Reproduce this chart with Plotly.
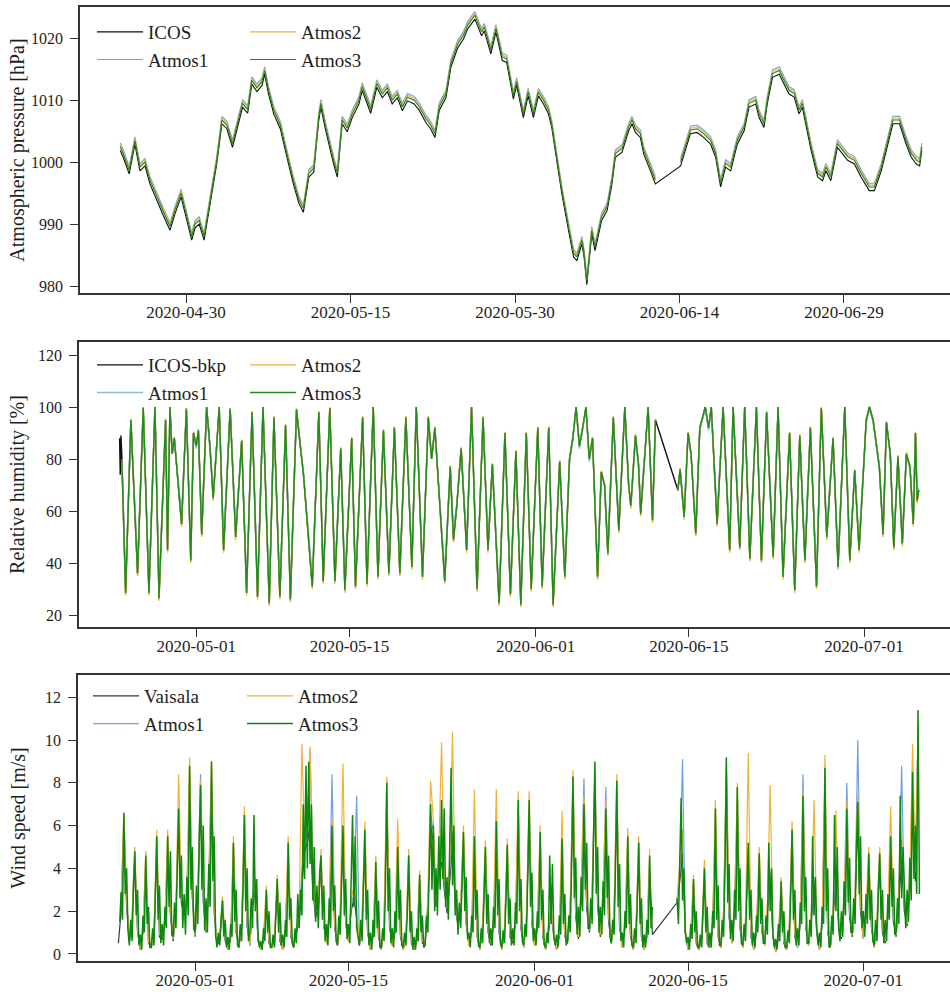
import datetime as dt
import plotly.graph_objects as go

START = dt.datetime(2020, 4, 24)

# ---------------- Atmospheric pressure [hPa] (time in days since START) -------------
p_days = [0.0, 0.27, 0.82, 1.34, 1.8, 2.26, 2.71, 3.32, 3.93, 4.54,
          5.0, 5.55, 6.07, 6.52, 6.83, 7.2, 7.65, 8.2, 8.8, 9.27,
          9.73, 10.24, 10.7, 11.16, 11.62, 12.0, 12.47, 12.93, 13.17, 13.54,
          14.0, 14.6, 15.2, 15.8, 16.3, 16.7, 17.2, 17.65, 18.1, 18.3,
          18.7, 19.2, 19.5, 19.8, 20.24, 20.7, 21.16, 21.77, 22.07, 22.53,
          22.84, 23.4, 23.9, 24.36, 24.8, 25.27, 25.73, 26.2, 26.8, 27.26,
          27.87, 28.3, 28.7, 29.1, 29.7, 30.15, 30.76, 31.3, 31.68, 32.0,
          32.35, 32.95, 33.2, 33.8, 34.26, 34.84, 35.24, 35.85, 36.15, 36.76,
          37.2, 37.68, 38.13, 38.6, 39.05, 39.35, 39.87, 40.27, 40.88, 41.34,
          41.64, 42.1, 42.3, 42.55, 43.0, 43.3, 43.9, 44.4, 44.84, 45.15,
          45.76, 46.37, 46.67, 46.98, 47.43, 47.74, 48.35, 48.8, 50.0, 51.1,
          51.55, 52.0, 52.6, 53.2, 53.84, 54.3, 54.75, 55.2, 55.67, 56.27,
          56.9, 57.34, 57.95, 58.26, 58.7, 59.0, 59.48, 60.1, 60.54, 61.0,
          61.46, 61.9, 62.2, 62.5, 63.0, 63.6, 64.05, 64.35, 64.8, 65.4,
          65.87, 66.33, 66.95, 67.55, 68.3, 68.77, 69.4, 69.85, 70.46, 71.06,
          71.67, 72.13, 72.6, 72.9, 73.1]

p_icos = [1001.9, 1000.8, 998.1, 1002.9, 998.6, 999.4, 996.5, 993.8, 991.4, 989.0,
          991.7, 994.4, 990.6, 987.4, 989.4, 990.0, 987.4, 993.3, 999.7, 1006.2,
          1005.4, 1002.4, 1005.9, 1008.9, 1007.9, 1012.6, 1011.4, 1012.4, 1014.2, 1010.9,
          1007.8, 1005.4, 1000.8, 996.4, 993.3, 991.9, 997.6, 998.4, 1006.7, 1008.9,
          1005.4, 1001.3, 999.4, 997.6, 1006.2, 1004.9, 1007.2, 1009.4, 1011.6, 1009.4,
          1007.9, 1012.1, 1010.4, 1011.4, 1009.4, 1010.4, 1008.3, 1009.9, 1009.4, 1008.4,
          1006.4, 1005.4, 1004.0, 1008.4, 1010.4, 1015.3, 1018.4, 1019.9, 1021.5, 1022.3,
          1023.1, 1020.4, 1021.2, 1017.5, 1021.0, 1016.4, 1016.1, 1010.2, 1012.4, 1007.2,
          1010.7, 1007.2, 1010.7, 1009.4, 1007.8, 1005.6, 999.7, 994.9, 989.0, 984.7,
          984.1, 986.8, 984.7, 980.2, 988.4, 985.7, 990.6, 992.2, 996.5, 1000.8,
          1001.6, 1005.1, 1006.2, 1004.8, 1004.0, 1001.3, 998.6, 996.5, None, 999.4,
          1001.9, 1004.6, 1004.8, 1004.0, 1002.9, 1000.8, 996.0, 999.2, 998.6, 1002.9,
          1005.1, 1008.9, 1009.4, 1007.2, 1005.6, 1009.4, 1013.7, 1014.2, 1012.6, 1011.0,
          1010.5, 1007.8, 1008.9, 1006.2, 1001.9, 997.6, 997.0, 998.6, 997.0, 1002.4,
          1001.3, 1000.3, 999.7, 997.6, 995.4, 995.4, 998.6, 1001.9, 1006.2, 1006.2,
          1002.9, 1000.8, 999.7, 999.4, 1001.9]

p_atmos1 = [1003.1, 1002.0, 999.3, 1004.1, 999.8, 1000.6, 997.7, 995.0, 992.6, 990.2,
            992.9, 995.6, 991.8, 988.6, 990.6, 991.2, 988.6, 994.5, 1000.9, 1007.4,
            1006.6, 1003.6, 1007.1, 1010.1, 1009.1, 1013.8, 1012.6, 1013.6, 1015.4, 1012.1,
            1009.0, 1006.6, 1002.0, 997.6, 994.5, 993.1, 998.8, 999.6, 1007.9, 1010.1,
            1006.6, 1002.5, 1000.6, 998.8, 1007.4, 1006.1, 1008.4, 1010.6, 1012.8, 1010.6,
            1009.1, 1013.3, 1011.6, 1012.6, 1010.6, 1011.6, 1009.5, 1011.1, 1010.6, 1009.6,
            1007.6, 1006.6, 1005.2, 1009.6, 1011.6, 1016.5, 1019.6, 1021.1, 1022.7, 1023.5,
            1024.3, 1021.6, 1022.4, 1018.7, 1022.2, 1017.6, 1017.3, 1011.4, 1013.6, 1008.4,
            1011.9, 1008.4, 1011.9, 1010.6, 1009.0, 1006.8, 1000.9, 996.1, 990.2, 985.9,
            985.3, 988.0, 985.9, 981.4, 989.6, 986.9, 991.8, 993.4, 997.7, 1002.0,
            1002.8, 1006.3, 1007.4, 1006.0, 1005.2, 1002.5, 999.8, 997.7, None, 1000.6,
            1003.1, 1005.8, 1006.0, 1005.2, 1004.1, 1002.0, 997.2, 1000.4, 999.8, 1004.1,
            1006.3, 1010.1, 1010.6, 1008.4, 1006.8, 1010.6, 1014.9, 1015.4, 1013.8, 1012.2,
            1011.7, 1009.0, 1010.1, 1007.4, 1003.1, 998.8, 998.2, 999.8, 998.2, 1003.6,
            1002.5, 1001.5, 1000.9, 998.8, 996.6, 996.6, 999.8, 1003.1, 1007.4, 1007.4,
            1004.1, 1002.0, 1000.9, 1000.6, 1003.1]

p_atmos2 = [1002.8, 1001.7, 999.0, 1003.8, 999.5, 1000.3, 997.4, 994.7, 992.3, 989.9,
            992.6, 995.3, 991.5, 988.3, 990.3, 990.9, 988.3, 994.2, 1000.6, 1007.1,
            1006.3, 1003.3, 1006.8, 1009.8, 1008.8, 1013.5, 1012.3, 1013.3, 1015.1, 1011.8,
            1008.7, 1006.3, 1001.7, 997.3, 994.2, 992.8, 998.5, 999.3, 1007.6, 1009.8,
            1006.3, 1002.2, 1000.3, 998.5, 1007.1, 1005.8, 1008.1, 1010.3, 1012.5, 1010.3,
            1008.8, 1013.0, 1011.3, 1012.3, 1010.3, 1011.3, 1009.2, 1010.8, 1010.3, 1009.3,
            1007.3, 1006.3, 1004.9, 1009.3, 1011.3, 1016.2, 1019.3, 1020.8, 1022.4, 1023.2,
            1024.0, 1021.3, 1022.1, 1018.4, 1021.9, 1017.3, 1017.0, 1011.1, 1013.3, 1008.1,
            1011.6, 1008.1, 1011.6, 1010.3, 1008.7, 1006.5, 1000.6, 995.8, 989.9, 985.6,
            985.0, 987.7, 985.6, 981.1, 989.3, 986.6, 991.5, 993.1, 997.4, 1001.7,
            1002.5, 1006.0, 1007.1, 1005.7, 1004.9, 1002.2, 999.5, 997.4, None, 1000.3,
            1002.8, 1005.5, 1005.7, 1004.9, 1003.8, 1001.7, 996.9, 1000.1, 999.5, 1003.8,
            1006.0, 1009.8, 1010.3, 1008.1, 1006.5, 1010.3, 1014.6, 1015.1, 1013.5, 1011.9,
            1011.4, 1008.7, 1009.8, 1007.1, 1002.8, 998.5, 997.9, 999.5, 997.9, 1003.3,
            1002.2, 1001.2, 1000.6, 998.5, 996.3, 996.3, 999.5, 1002.8, 1007.1, 1007.1,
            1003.8, 1001.7, 1000.6, 1000.3, 1002.8]

p_atmos3 = [1002.5, 1001.4, 998.7, 1003.5, 999.2, 1000.0, 997.1, 994.4, 992.0, 989.6,
            992.3, 995.0, 991.2, 988.0, 990.0, 990.6, 988.0, 993.9, 1000.3, 1006.8,
            1006.0, 1003.0, 1006.5, 1009.5, 1008.5, 1013.2, 1012.0, 1013.0, 1014.8, 1011.5,
            1008.4, 1006.0, 1001.4, 997.0, 993.9, 992.5, 998.2, 999.0, 1007.3, 1009.5,
            1006.0, 1001.9, 1000.0, 998.2, 1006.8, 1005.5, 1007.8, 1010.0, 1012.2, 1010.0,
            1008.5, 1012.7, 1011.0, 1012.0, 1010.0, 1011.0, 1008.9, 1010.5, 1010.0, 1009.0,
            1007.0, 1006.0, 1004.6, 1009.0, 1011.0, 1015.9, 1019.0, 1020.5, 1022.1, 1022.9,
            1023.7, 1021.0, 1021.8, 1018.1, 1021.6, 1017.0, 1016.7, 1010.8, 1013.0, 1007.8,
            1011.3, 1007.8, 1011.3, 1010.0, 1008.4, 1006.2, 1000.3, 995.5, 989.6, 985.3,
            984.7, 987.4, 985.3, 980.8, 989.0, 986.3, 991.2, 992.8, 997.1, 1001.4,
            1002.2, 1005.7, 1006.8, 1005.4, 1004.6, 1001.9, 999.2, 997.1, None, 1000.0,
            1002.5, 1005.2, 1005.4, 1004.6, 1003.5, 1001.4, 996.6, 999.8, 999.2, 1003.5,
            1005.7, 1009.5, 1010.0, 1007.8, 1006.2, 1010.0, 1014.3, 1014.8, 1013.2, 1011.6,
            1011.1, 1008.4, 1009.5, 1006.8, 1002.5, 998.2, 997.6, 999.2, 997.6, 1003.0,
            1001.9, 1000.9, 1000.3, 998.2, 996.0, 996.0, 999.2, 1002.5, 1006.8, 1006.8,
            1003.5, 1001.4, 1000.3, 1000.0, 1002.5]

# ---------------- Relative humidity [%] (time in days since START) -------------
rh_days = [0.0, 0.06, 0.12, 0.2, 0.55, 1.03, 1.64, 2.16, 2.68, 3.23,
           3.6, 4.2, 4.38, 4.6, 4.8, 5.0, 5.66, 6.1, 6.5, 6.75,
           7.0, 7.2, 7.5, 7.95, 8.25, 8.55, 9.1, 9.5, 10.1, 10.6,
           11.15, 11.6, 12.1, 12.6, 13.1, 13.67, 14.1, 14.64, 15.16, 15.6,
           16.16, 16.5, 16.8, 17.6, 18.2, 18.6, 19.2, 19.67, 20.2, 20.58,
           21.2, 21.55, 22.2, 22.6, 23.17, 23.6, 24.1, 24.6, 25.1, 25.6,
           26.15, 26.7, 27.1, 27.67, 28.2, 28.5, 28.8, 29.7, 30.2, 30.5,
           30.8, 31.2, 31.7, 32.15, 32.65, 33.2, 33.65, 34.05, 34.67, 35.2,
           35.7, 36.2, 36.65, 37.15, 37.6, 38.2, 38.6, 39.2, 39.6, 40.2,
           40.67, 41.1, 41.4, 41.7, 42.0, 42.3, 42.6, 42.9, 43.2, 43.66,
           44.0, 44.3, 44.6, 45.1, 45.6, 46.15, 46.5, 46.7, 47.12, 47.4,
           47.6, 48.28, 48.68, 48.95, 50.0, 51.0, 51.2, 51.57, 51.93, 52.2,
           52.63, 53.0, 53.5, 53.8, 54.05, 54.58, 55.13, 55.73, 56.04, 56.65,
           57.1, 57.57, 58.17, 58.63, 59.1, 59.7, 60.15, 60.6, 61.2, 61.67,
           62.13, 62.6, 63.1, 63.66, 64.1, 64.6, 65.17, 65.63, 66.24, 66.7,
           67.15, 67.55, 68.2, 68.5, 68.83, 69.4, 69.74, 70.05, 70.4, 70.72,
           71.1, 71.5, 71.87, 72.2, 72.5, 72.7, 72.85, 73.0]

rh_icos = [88, 74, 89, 82, 28.5, 95, 36, 99.7, 28.5, 100,
           26.5, 95, 45, 100, 82, 88, 55, 99.5, 41, 90,
           85, 91, 51, 100, 85, 65, 100, 45, 99.5, 50,
           87, 28.5, 98, 27, 100, 24.5, 96, 27, 93, 26,
           99, 85, 74, 31, 98, 33, 99.5, 33, 84, 29.6,
           88, 31, 96, 32, 100, 34.7, 91, 36, 92, 36,
           96, 38.5, 100, 34.7, 96, 80, 92, 33, 77, 49,
           62, 84, 45, 100, 30, 96, 45, 78, 24.5, 90,
           28, 83, 24, 90, 30, 92, 31, 92, 24, 79,
           34.7, 80, 88, 100, 85, 92, 100, 80, 88, 34.7,
           75, 70, 43.7, 96, 52.6, 100, 70, 62, 89, 78,
           59, 100, 56.5, 95, None, 68, 76, 57.7, 90, 82,
           51.3, 92, 100, 92, 100, 55, 100, 45, 100, 46,
           100, 41.7, 100, 41, 98, 42.4, 100, 34.7, 90, 29.6,
           89, 41, 92, 31, 99.5, 50, 88, 38.5, 100, 41,
           75.7, 45, 95, 100, 95, 77, 51, 94, 82, 46,
           81, 47.5, 82, 77, 55, 90, 64, 68]

rh_atmos1 = [None, None, None, 80, 32.5, 95, 40, 99.5, 32.5, 99.5,
             30.5, 94, 49, 99, 82, 87, 59, 98, 45, 89,
             84, 90, 55, 99, 84, 67, 99, 49, 98, 54,
             86, 32.5, 97, 31, 99, 28.5, 95, 31, 92, 30,
             98, 84, 74, 35, 97, 37, 98.5, 37, 83, 33.6,
             87, 35, 95, 36, 99, 38.7, 90, 40, 91, 40,
             95, 42.5, 99, 38.7, 95, 80, 91, 37, 77, 53,
             63, 83, 49, 99, 34, 95, 49, 78, 28.5, 89,
             32, 82, 28, 89, 34, 91, 35, 91, 28, 78,
             38.7, 79, 87, 99, 84, 91, 99, 79, 87, 38.7,
             74, 70, 47.7, 95, 56.6, 99, 70, 63, 88, 77,
             63, 99, 60.5, 94, None, 69, 76, 61.7, 89, 81,
             55.3, 91, 99, 91, 99, 59, 99, 49, 99, 50,
             99, 45.7, 99, 45, 97, 46.4, 99, 38.7, 89, 33.6,
             88, 45, 91, 35, 98.5, 54, 87, 42.5, 99, 45,
             75, 49, 94, 99, 94, 76, 55, 93, 81, 50,
             80, 51.5, 81, 76, 59, 89, 66, 69]

rh_atmos2 = [None, None, None, 80, 27.5, 95.5, 35, 100, 27.5, 100,
             25.5, 95.5, 44, 100, 82, 88.5, 54, 99.5, 40, 90.5,
             85.5, 91.5, 50, 100, 85.5, 64, 100, 44, 99.5, 49,
             87.5, 27.5, 98.5, 26, 100, 23.5, 96.5, 26, 93.5, 25,
             99.5, 85.5, 74, 30, 98.5, 32, 100, 32, 84.5, 28.6,
             88.5, 30, 96.5, 31, 100, 33.7, 91.5, 35, 92.5, 35,
             96.5, 37.5, 100, 33.7, 96.5, 80, 92.5, 32, 77.5, 48,
             62, 84.5, 44, 100, 29, 96.5, 44, 78.5, 23.5, 90.5,
             27, 83.5, 23, 90.5, 29, 92.5, 30, 92.5, 23, 79.5,
             33.7, 80.5, 88.5, 100, 85.5, 92.5, 100, 80.5, 88.5, 33.7,
             75.5, 70, 42.7, 96.5, 51.6, 100, 70, 61, 89.5, 78.5,
             58, 100, 55.5, 95.5, None, 68, 76.5, 56.7, 90.5, 82.5,
             50.3, 92.5, 100, 92.5, 100, 54, 100, 44, 100, 45,
             100, 40.7, 100, 40, 98.5, 41.4, 100, 33.7, 90.5, 28.6,
             89.5, 40, 92.5, 30, 100, 49, 88.5, 37.5, 100, 40,
             76, 44, 95.5, 100, 95.5, 77.5, 50, 94.5, 82.5, 45,
             81.5, 46.5, 82.5, 77.5, 54, 90.5, 63, 68]

rh_atmos3 = [None, None, None, 80, 28.5, 95, 36, 99.7, 28.5, 100,
             26.5, 95, 45, 100, 82, 88, 55, 99, 41, 90,
             85, 91, 51, 100, 85, 65, 100, 45, 99, 50,
             87, 28.5, 98, 27, 100, 24.5, 96, 27, 93, 26,
             99, 85, 74, 31, 98, 33, 99.5, 33, 84, 29.6,
             88, 31, 96, 32, 100, 34.7, 91, 36, 92, 36,
             96, 38.5, 100, 34.7, 96, 80, 92, 33, 77, 49,
             62, 84, 45, 100, 30, 96, 45, 78, 24.5, 90,
             28, 83, 24, 90, 30, 92, 31, 92, 24, 79,
             34.7, 80, 88, 100, 85, 92, 100, 80, 88, 34.7,
             75, 70, 43.7, 96, 52.6, 100, 70, 62, 89, 78,
             59, 100, 56.5, 95, None, 68, 76, 57.7, 90, 82,
             51.3, 92, 100, 92, 100, 55, 100, 45, 100, 46,
             100, 41.7, 100, 41, 98, 42.4, 100, 34.7, 90, 29.6,
             89, 41, 92, 31, 99.5, 50, 88, 38.5, 100, 41,
             75.7, 45, 95, 100, 95, 77, 51, 94, 82, 46,
             81, 47.5, 82, 77, 55, 90, 64, 68]

# ---------------- Wind speed [m/s]: one row per day since START -------------
# Vaisala / Atmos1 / Atmos2: values at 00, 06, 12, 18 h
wind_vaisala = [
    [0.5, 2.0, 5.8, 2.2], [0.6, 1.5, 4.2, 1.0], [0.2, 1.0, 4.0, 0.5], [0.3, 0.8, 4.8, 0.8],
    [0.7, 1.4, 4.8, 1.8], [0.6, 2.0, 6.0, 2.4], [1.8, 2.5, 7.6, 2.6], [0.8, 2.6, 7.0, 2.4],
    [1.0, 3.0, 8.0, 1.9], [0.4, 0.6, 2.2, 0.6], [0.2, 0.7, 4.6, 1.0], [0.3, 1.2, 5.6, 1.3],
    [0.4, 2.2, 3.0, 0.6], [0.2, 0.6, 2.6, 0.5], [0.3, 0.7, 3.0, 0.6], [0.2, 1.0, 4.5, 0.8],
    [0.3, 1.0, 1.5, 3.4], [4.8, 5.2, 6.0, 3.0], [1.7, 2.2, 4.0, 1.3], [0.5, 1.7, 5.2, 1.2],
    [0.4, 1.7, 5.2, 1.4], [0.6, 2.0, 2.6, 1.7], [0.4, 1.5, 5.0, 1.0], [0.2, 0.8, 3.7, 0.8],
    [0.2, 1.2, 6.9, 1.3], [0.4, 1.0, 4.3, 0.8], [0.2, 0.7, 4.0, 0.5], [0.2, 0.6, 3.2, 0.5],
    [0.4, 2.2, 6.0, 5.2], [2.2, 3.9, 4.3, 3.0], [1.9, 3.4, 5.2, 2.2], [1.3, 2.0, 4.9, 1.4],
    [0.4, 1.0, 4.7, 0.8], [0.2, 1.2, 4.3, 1.0], [0.4, 1.4, 5.3, 1.0], [0.2, 1.0, 4.4, 0.8],
    [0.5, 1.4, 6.2, 1.2], [0.3, 1.5, 6.2, 1.4], [0.4, 1.2, 4.9, 0.8], [0.2, 1.0, 1.9, 0.8],
    [0.2, 0.8, 4.6, 0.8], [0.5, 2.0, 7.1, 1.7], [0.7, 2.7, 6.0, 2.1], [1.0, 2.6, 7.7, 2.2],
    [0.8, 2.4, 5.8, 1.5], [0.5, 1.7, 7.0, 1.3], [0.3, 1.2, 4.7, 0.8], [0.2, 1.0, 4.5, 0.8],
    [0.2, 0.8, 4.0, 0.9], [None, None, None, None], [None, None, None, None], [2.4, 3.4, 4.7, 1.0],
    [0.2, 0.8, 3.0, 0.5], [0.2, 0.7, 3.4, 0.5], [0.3, 1.2, 5.8, 0.8], [0.3, 1.7, 7.9, 1.7],
    [0.5, 1.9, 6.7, 1.2], [0.3, 1.4, 4.5, 0.8], [0.2, 1.0, 4.0, 1.0], [0.4, 2.0, 3.4, 0.8],
    [0.1, 0.7, 2.9, 0.5], [0.2, 1.2, 5.0, 0.8], [0.3, 1.4, 6.4, 1.2], [0.4, 1.5, 3.1, 1.0],
    [0.2, 1.4, 7.5, 1.0], [0.3, 1.9, 3.3, 1.4], [0.7, 2.1, 5.8, 1.7], [0.8, 2.4, 6.1, 2.0],
    [0.7, 1.7, 4.0, 1.2], [0.3, 1.4, 4.0, 1.0], [0.5, 1.7, 4.7, 1.5], [0.8, 2.6, 4.3, 2.0],
    [1.3, 3.0, 7.3, 3.4], [8.0],
]

wind_atmos1 = [
    [None, 2.2, 6.4, 2.4], [0.7, 1.7, 4.6, 1.1], [0.3, 1.1, 4.4, 0.6], [0.3, 0.9, 5.3, 0.9],
    [0.8, 1.5, 5.2, 1.9], [0.7, 2.1, 6.5, 2.7], [1.9, 2.7, 8.4, 2.8], [0.9, 2.8, 8.4, 2.7],
    [1.1, 3.3, 8.6, 2.1], [0.5, 0.7, 2.4, 0.7], [0.3, 0.8, 5.0, 1.1], [0.4, 1.3, 6.2, 1.4],
    [0.5, 2.4, 3.3, 0.7], [0.3, 0.7, 2.9, 0.6], [0.3, 0.8, 3.3, 0.7], [0.3, 1.1, 5.0, 0.9],
    [0.4, 1.1, 1.7, 3.8], [5.2, 5.8, 9.5, 3.3], [1.9, 2.4, 4.4, 1.4], [0.6, 1.9, 8.4, 1.3],
    [0.5, 1.9, 5.7, 1.5], [0.7, 2.3, 2.8, 7.4], [0.5, 1.7, 5.5, 1.1], [0.3, 0.9, 4.1, 0.9],
    [0.3, 1.3, 7.6, 1.4], [0.5, 1.1, 4.8, 0.9], [0.3, 0.8, 4.4, 0.6], [0.3, 0.7, 3.5, 0.6],
    [0.5, 2.4, 6.6, 5.7], [2.4, 4.3, 4.8, 3.3], [2.1, 3.8, 5.7, 2.4], [1.4, 2.2, 5.4, 1.5],
    [0.4, 1.1, 5.2, 0.9], [0.3, 1.3, 4.8, 1.1], [0.5, 1.5, 5.9, 1.1], [0.3, 1.1, 4.8, 0.9],
    [0.6, 1.5, 6.8, 1.3], [0.4, 1.7, 6.8, 1.5], [0.5, 1.3, 5.4, 0.9], [0.3, 1.1, 2.1, 0.9],
    [0.3, 0.9, 5.1, 0.8], [0.6, 2.3, 7.9, 1.9], [0.8, 3.0, 8.2, 2.4], [1.1, 2.9, 8.5, 2.5],
    [0.9, 2.7, 7.8, 1.7], [0.6, 1.9, 7.7, 1.4], [0.4, 1.3, 5.2, 0.9], [0.3, 1.1, 4.9, 0.8],
    [0.3, 0.9, 4.4, None], [None, None, None, None], [None, None, None, None], [2.5, 3.8, 9.1, 1.1],
    [0.3, 0.9, 3.3, 0.6], [0.3, 0.8, 3.8, 0.6], [0.4, 1.3, 6.5, 0.9], [0.4, 1.9, 8.7, 1.9],
    [0.6, 2.1, 7.4, 1.3], [0.4, 1.5, 4.9, 0.9], [0.3, 1.1, 4.5, 1.1], [0.5, 2.3, 3.8, 0.9],
    [0.2, 0.8, 3.2, 0.6], [0.3, 1.3, 5.5, 0.9], [0.4, 1.5, 8.4, 1.3], [0.5, 1.7, 3.4, 1.1],
    [0.3, 1.5, 8.3, 1.1], [0.4, 2.1, 3.6, 1.5], [0.8, 2.4, 8.0, 1.9], [0.9, 2.7, 10.0, 2.3],
    [0.8, 1.9, 4.5, 1.3], [0.4, 1.5, 4.5, 1.1], [0.6, 1.9, 5.2, 1.7], [0.9, 2.8, 8.8, 2.3],
    [1.4, 3.3, 8.1, 3.8], [10.2],
]

wind_atmos2 = [
    [None, 2.5, 6.6, 2.6], [0.7, 1.9, 5.0, 1.2], [0.2, 1.3, 4.8, 0.6], [0.3, 1.0, 5.8, 1.0],
    [0.8, 1.7, 5.8, 2.1], [0.7, 2.3, 8.4, 2.9], [1.9, 2.9, 9.2, 3.1], [0.9, 3.1, 8.1, 2.9],
    [1.1, 3.6, 9.0, 2.3], [0.5, 0.8, 2.7, 0.8], [0.2, 0.9, 5.5, 1.2], [0.3, 1.4, 6.9, 1.6],
    [0.4, 2.6, 3.6, 0.8], [0.2, 0.8, 3.2, 0.7], [0.3, 0.9, 3.7, 0.8], [0.2, 1.2, 5.5, 1.0],
    [0.3, 1.2, 1.9, 9.8], [5.6, 6.3, 9.7, 3.6], [2.0, 2.6, 4.9, 1.5], [0.5, 2.1, 6.4, 1.4],
    [0.4, 2.1, 8.9, 1.7], [0.6, 2.5, 3.2, 2.1], [0.4, 1.9, 6.2, 1.2], [0.2, 1.0, 4.6, 1.0],
    [0.2, 1.5, 8.3, 1.6], [0.4, 1.3, 6.3, 1.0], [0.2, 0.8, 4.9, 0.6], [0.2, 0.7, 3.9, 0.6],
    [0.5, 2.6, 8.1, 6.3], [2.6, 4.7, 9.9, 3.7], [2.3, 4.2, 10.4, 2.6], [1.5, 2.5, 6.0, 1.7],
    [0.4, 1.3, 7.7, 1.0], [0.2, 1.5, 5.3, 1.3], [0.5, 1.7, 7.7, 1.3], [0.2, 1.3, 5.4, 1.0],
    [0.6, 1.7, 7.6, 1.5], [0.3, 1.9, 7.6, 1.7], [0.4, 1.5, 6.0, 1.0], [0.2, 1.3, 2.3, 1.0],
    [0.2, 1.0, 6.7, 1.0], [0.6, 2.5, 8.6, 2.1], [0.8, 3.4, 7.4, 2.6], [1.2, 3.2, 8.3, 2.8],
    [0.9, 3.0, 7.2, 1.9], [0.5, 2.1, 8.4, 1.6], [0.3, 1.5, 5.9, 1.0], [0.2, 1.3, 5.5, 0.9],
    [0.2, 1.0, 4.9, None], [None, None, None, None], [None, None, None, None], [2.6, 4.2, 5.8, 1.2],
    [0.2, 1.0, 3.7, 0.6], [0.2, 0.9, 4.4, 0.6], [0.3, 1.5, 7.2, 1.0], [0.3, 2.1, 8.9, 2.1],
    [0.5, 2.3, 8.0, 1.5], [0.3, 1.7, 9.4, 1.0], [0.2, 1.3, 5.0, 1.3], [0.4, 2.5, 7.9, 1.0],
    [0.1, 0.8, 3.6, 0.6], [0.2, 1.5, 6.2, 1.0], [0.3, 1.7, 7.6, 1.5], [0.4, 1.9, 7.2, 1.3],
    [0.2, 1.7, 9.3, 1.3], [0.3, 2.3, 6.7, 1.7], [0.8, 2.6, 7.1, 2.1], [0.9, 3.0, 7.5, 2.5],
    [0.7, 2.1, 5.0, 1.5], [0.3, 1.7, 5.0, 1.3], [0.6, 2.1, 6.9, 1.9], [0.9, 3.2, 5.4, 2.5],
    [1.4, 3.7, 9.8, 4.2], [10.6],
]

# Atmos3: values at 00, 03, 06, 09, 12, 15, 18, 21 h
wind_atmos3 = [
    [None, 1.5, 2.9, 1.6, 6.6, 2.8, 4.0, 1.1], [0.4, 1.6, 0.6, 3.2, 4.8, 1.8, 3.0, 0.4],
    [0.9, 0.2, 1.8, 1.0, 4.6, 1.4, 2.2, 0.3], [0.3, 1.2, 0.4, 2.8, 5.5, 1.6, 3.2, 0.5],
    [1.4, 0.4, 2.2, 1.2, 5.5, 2.2, 4.8, 0.9], [0.8, 2.4, 1.2, 4.0, 6.8, 2.6, 4.6, 1.2],
    [2.8, 0.9, 3.6, 1.8, 8.8, 3.0, 5.0, 1.2], [1.0, 3.2, 1.4, 5.2, 7.9, 3.0, 6.0, 1.1],
    [2.6, 1.0, 4.2, 2.2, 9.0, 3.4, 5.5, 0.9], [0.3, 1.0, 0.4, 1.6, 2.5, 0.8, 1.6, 0.3],
    [0.8, 0.2, 1.4, 0.8, 5.2, 1.5, 3.0, 0.4], [0.3, 1.4, 0.6, 3.0, 6.5, 2.0, 4.0, 0.6],
    [1.0, 2.6, 1.2, 6.5, 2.0, 3.5, 0.8, 0.3], [0.6, 0.2, 1.2, 0.6, 3.0, 1.0, 2.0, 0.3],
    [0.3, 0.9, 0.3, 1.8, 3.5, 1.0, 2.4, 0.4], [0.9, 0.3, 1.6, 0.8, 5.2, 1.6, 2.6, 0.5],
    [0.3, 1.2, 0.5, 2.8, 1.2, 3.0, 1.8, 7.0], [3.5, 8.8, 4.0, 9.0, 4.2, 7.0, 2.5, 5.0],
    [1.5, 3.2, 1.2, 3.8, 4.6, 1.6, 3.2, 0.6], [1.4, 0.4, 2.6, 1.2, 6.0, 2.0, 3.2, 0.6],
    [0.4, 1.8, 0.9, 3.4, 6.0, 1.8, 3.5, 0.7], [1.4, 0.5, 3.0, 6.5, 2.2, 5.5, 1.2, 0.8],
    [0.4, 1.6, 0.6, 3.2, 5.8, 1.6, 3.0, 0.4], [1.0, 0.2, 1.6, 0.8, 4.3, 1.2, 2.5, 0.3],
    [0.3, 1.2, 0.6, 3.0, 8.0, 2.0, 4.0, 0.5], [1.2, 0.3, 2.0, 1.0, 5.0, 1.6, 3.0, 0.4],
    [0.3, 1.0, 0.4, 2.0, 4.6, 1.0, 2.0, 0.2], [0.8, 0.2, 1.2, 0.6, 3.7, 1.0, 1.8, 0.3],
    [0.4, 1.8, 1.0, 4.0, 7.0, 3.0, 6.0, 2.0], [4.0, 1.8, 5.5, 3.0, 7.2, 3.5, 6.8, 2.2],
    [3.6, 1.6, 5.0, 8.7, 3.2, 6.0, 1.8, 3.0], [0.9, 2.4, 1.2, 3.8, 5.7, 2.0, 3.6, 0.7],
    [1.0, 0.3, 1.8, 1.0, 5.5, 1.6, 3.0, 0.4], [0.3, 1.2, 0.5, 2.6, 5.0, 1.4, 2.8, 0.5],
    [1.2, 0.4, 2.2, 1.2, 6.2, 1.8, 3.5, 0.5], [0.3, 1.1, 0.5, 2.5, 5.1, 1.4, 2.6, 0.4],
    [1.2, 0.4, 2.4, 1.4, 7.2, 2.0, 3.5, 0.6], [0.4, 1.4, 0.8, 3.8, 7.2, 2.2, 3.8, 0.6],
    [1.2, 0.4, 2.0, 1.2, 5.7, 1.6, 3.0, 0.4], [0.3, 1.0, 0.5, 4.6, 1.4, 4.2, 0.8, 0.4],
    [0.9, 0.3, 1.8, 0.9, 5.4, 1.4, 2.8, 0.4], [0.6, 1.8, 1.0, 4.2, 8.3, 2.6, 4.5, 0.9],
    [2.2, 0.8, 3.6, 2.0, 7.0, 3.0, 5.2, 1.2], [1.2, 2.6, 1.4, 5.5, 9.0, 2.8, 5.0, 1.0],
    [2.2, 0.9, 3.4, 1.8, 6.8, 2.6, 4.6, 0.8], [0.5, 1.6, 0.9, 4.0, 8.1, 2.2, 4.2, 0.6],
    [1.0, 0.3, 2.0, 1.2, 5.5, 1.4, 2.8, 0.4], [0.3, 1.2, 0.5, 2.6, 5.2, 1.4, 2.6, 0.3],
    [0.9, 0.3, 1.6, 0.9, 4.6, 1.2, 2.2, None], [None, None, None, None, None, None, None, None],
    [None, None, None, None, None, None, None, None], [2.6, 1.4, 4.4, 7.3, 2.5, 4.0, 1.0, 0.5],
    [0.8, 0.2, 1.4, 0.7, 3.5, 1.0, 2.0, 0.3], [0.3, 0.9, 0.3, 1.8, 4.0, 1.0, 2.2, 0.3],
    [1.0, 0.3, 2.0, 1.2, 6.8, 1.6, 3.2, 0.4], [0.4, 1.6, 0.8, 4.0, 9.2, 2.4, 4.2, 0.7],
    [1.6, 0.6, 3.0, 1.6, 7.8, 2.0, 4.0, 0.5], [0.4, 1.4, 0.6, 3.0, 5.2, 1.6, 3.0, 0.4],
    [1.0, 0.3, 1.8, 1.0, 4.7, 1.4, 2.6, 0.5], [0.5, 1.8, 0.9, 5.2, 2.0, 4.0, 1.0, 0.3],
    [0.7, 0.2, 1.4, 0.6, 3.4, 1.0, 2.0, 0.3], [0.3, 1.1, 0.5, 2.8, 5.8, 1.6, 3.0, 0.4],
    [1.2, 0.4, 2.4, 1.4, 7.4, 2.0, 3.6, 0.5], [0.5, 1.6, 0.8, 5.5, 1.8, 3.6, 1.2, 0.4],
    [1.0, 0.3, 2.2, 1.4, 8.7, 2.0, 4.0, 0.3], [0.4, 1.8, 0.9, 6.5, 2.0, 5.0, 1.2, 0.6],
    [2.0, 0.8, 3.4, 1.8, 6.8, 2.4, 4.5, 1.0], [1.0, 2.6, 1.4, 5.0, 7.1, 2.8, 5.5, 1.2],
    [2.0, 0.8, 2.8, 1.4, 4.7, 1.6, 3.0, 0.6], [0.4, 1.6, 0.6, 3.0, 4.7, 1.6, 3.0, 0.5],
    [1.6, 0.6, 2.8, 1.6, 5.5, 2.2, 4.0, 0.9], [1.0, 2.6, 1.4, 7.4, 2.6, 5.0, 2.4, 1.2],
    [3.0, 1.5, 4.5, 2.5, 8.5, 3.5, 6.0, 2.8], [11.4, 2.8],
]

# ---------------- axes ----------------
p_yticks = [980, 990, 1000, 1010, 1020]
rh_yticks = [20, 40, 60, 80, 100, 120]
ws_yticks = [0, 2, 4, 6, 8, 10, 12]
p_xticks = ["2020-04-30", "2020-05-15", "2020-05-30", "2020-06-14", "2020-06-29"]
rh_xticks = ["2020-05-01", "2020-05-15", "2020-06-01", "2020-06-15", "2020-07-01"]
ws_xticks = ["2020-05-01", "2020-05-15", "2020-06-01", "2020-06-15", "2020-07-01"]

p_names = ["ICOS", "Atmos1", "Atmos2", "Atmos3"]
rh_names = ["ICOS-bkp", "Atmos1", "Atmos2", "Atmos3"]
ws_names = ["Vaisala", "Atmos1", "Atmos2", "Atmos3"]


def day_times(days):
    return [START + dt.timedelta(days=d) for d in days]


def rows_series(rows, step_hours):
    xs, ys = [], []
    for d, row in enumerate(rows):
        for k, v in enumerate(row):
            xs.append(START + dt.timedelta(days=d, hours=k * step_hours))
            ys.append(v)
    return xs, ys


FONT = "Liberation Serif"
AX = "#333333"
TXT = "#1e1e1e"

p_colors = ["#111111", "#6f9fe6", "#f0b23a", "#1b8a1b"]
rh_colors = ["#111111", "#86bbe2", "#f0b23a", "#1f8c1f"]
ws_colors = ["#3a3a3a", "#6f9fe6", "#f0b23a", "#0c880c"]
p_widths = [1.1, 1.1, 1.1, 1.1]
rh_widths = [1.4, 1.4, 1.4, 1.4]
ws_widths = [1.2, 1.2, 1.2, 1.5]

pt = day_times(p_days)
rt = day_times(rh_days)
wv = rows_series(wind_vaisala, 6)
w1 = rows_series(wind_atmos1, 6)
w2 = rows_series(wind_atmos2, 6)
w3 = rows_series(wind_atmos3, 3)

panels = [
    ("x", "y", [(pt, p_icos), (pt, p_atmos1), (pt, p_atmos2), (pt, p_atmos3)],
     p_names, p_colors, p_widths, ("legend", "legend2")),
    ("x2", "y2", [(rt, rh_icos), (rt, rh_atmos1), (rt, rh_atmos2), (rt, rh_atmos3)],
     rh_names, rh_colors, rh_widths, ("legend3", "legend4")),
    ("x3", "y3", [wv, w1, w2, w3], ws_names, ws_colors, ws_widths, ("legend5", "legend6")),
]

fig = go.Figure()
for xa, ya, data, names, colors, widths, legs in panels:
    for i, ((xs, ys), name, col, lw) in enumerate(zip(data, names, colors, widths)):
        fig.add_trace(go.Scatter(
            x=xs, y=ys, mode="lines", name=name,
            line=dict(color=col, width=lw),
            connectgaps=(i == 0),
            xaxis=xa, yaxis=ya,
            legend=legs[0] if i < 2 else legs[1],
            hoverinfo="skip",
        ))

W, H = 950, 994
ML, MR, MT, MB = 78, 0, 7, 33
PW = W - ML - MR
PH = H - MT - MB


def xdom(left_px):
    return [(left_px - ML) / PW, 1.0]


def ydom(top_px, bottom_px):
    return [(H - MB - bottom_px) / PH, (H - MB - top_px) / PH]


def xaxis(left_px, anchor, rng, ticks):
    return dict(domain=xdom(left_px), anchor=anchor, type="date", range=rng,
                tickvals=ticks, ticktext=ticks, showline=True, mirror=True,
                linecolor=AX, linewidth=1.6, ticks="outside", ticklen=8,
                tickwidth=1.4, tickcolor=AX, showgrid=False, zeroline=False,
                ticklabelstandoff=-5,
                tickfont=dict(family=FONT, size=17, color=TXT))


def yaxis(top_px, bottom_px, anchor, rng, ticks, title, standoff):
    return dict(domain=ydom(top_px, bottom_px), anchor=anchor, range=rng,
                tickvals=ticks, showline=True, mirror=False, linecolor=AX,
                linewidth=1.6, ticks="outside", ticklen=8, tickwidth=1.4,
                tickcolor=AX, showgrid=False, zeroline=False,
                ticklabelstandoff=4,
                tickfont=dict(family=FONT, size=16, color=TXT),
                title=dict(text=title, standoff=standoff,
                           font=dict(family=FONT, size=20, color=TXT)))


def legend(x_px, top_px):
    return dict(x=(x_px - ML) / PW, y=(H - MB - top_px) / PH, xanchor="left",
                yanchor="top", bgcolor="rgba(0,0,0,0)", borderwidth=0,
                itemwidth=46, tracegroupgap=0, traceorder="normal",
                font=dict(family=FONT, size=19, color=TXT))


fig.update_layout(
    width=W, height=H,
    margin=dict(l=ML, r=MR, t=MT, b=MB),
    paper_bgcolor="white", plot_bgcolor="white",
    font=dict(family=FONT, size=17, color=TXT),
    showlegend=True,
    xaxis=xaxis(80, "y", ["2020-04-20 08:00", "2020-07-08 16:00"], p_xticks),
    yaxis=yaxis(7, 293, "x", [978.87, 1025.06], p_yticks,
                "Atmospheric pressure [hPa]", 1),
    xaxis2=xaxis(79, "y2", ["2020-04-20 07:00", "2020-07-08 20:30"], rh_xticks),
    yaxis2=yaxis(342, 627, "x2", [15.4, 125.0], rh_yticks,
                 "Relative humidity [%]", 8),
    xaxis3=xaxis(78, "y3", ["2020-04-20 07:30", "2020-07-08 22:00"], ws_xticks),
    yaxis3=yaxis(675, 961, "x3", [-0.33, 13.04], ws_yticks,
                 "Wind speed [m/s]", 14),
    legend=legend(92, 13),
    legend2=legend(245, 13),
    legend3=legend(92, 346),
    legend4=legend(245, 346),
    legend5=legend(88, 677),
    legend6=legend(242, 677),
)

fig.write_html("out.html", config={"displayModeBar": False},
               post_script="document.body.style.margin='0';")
